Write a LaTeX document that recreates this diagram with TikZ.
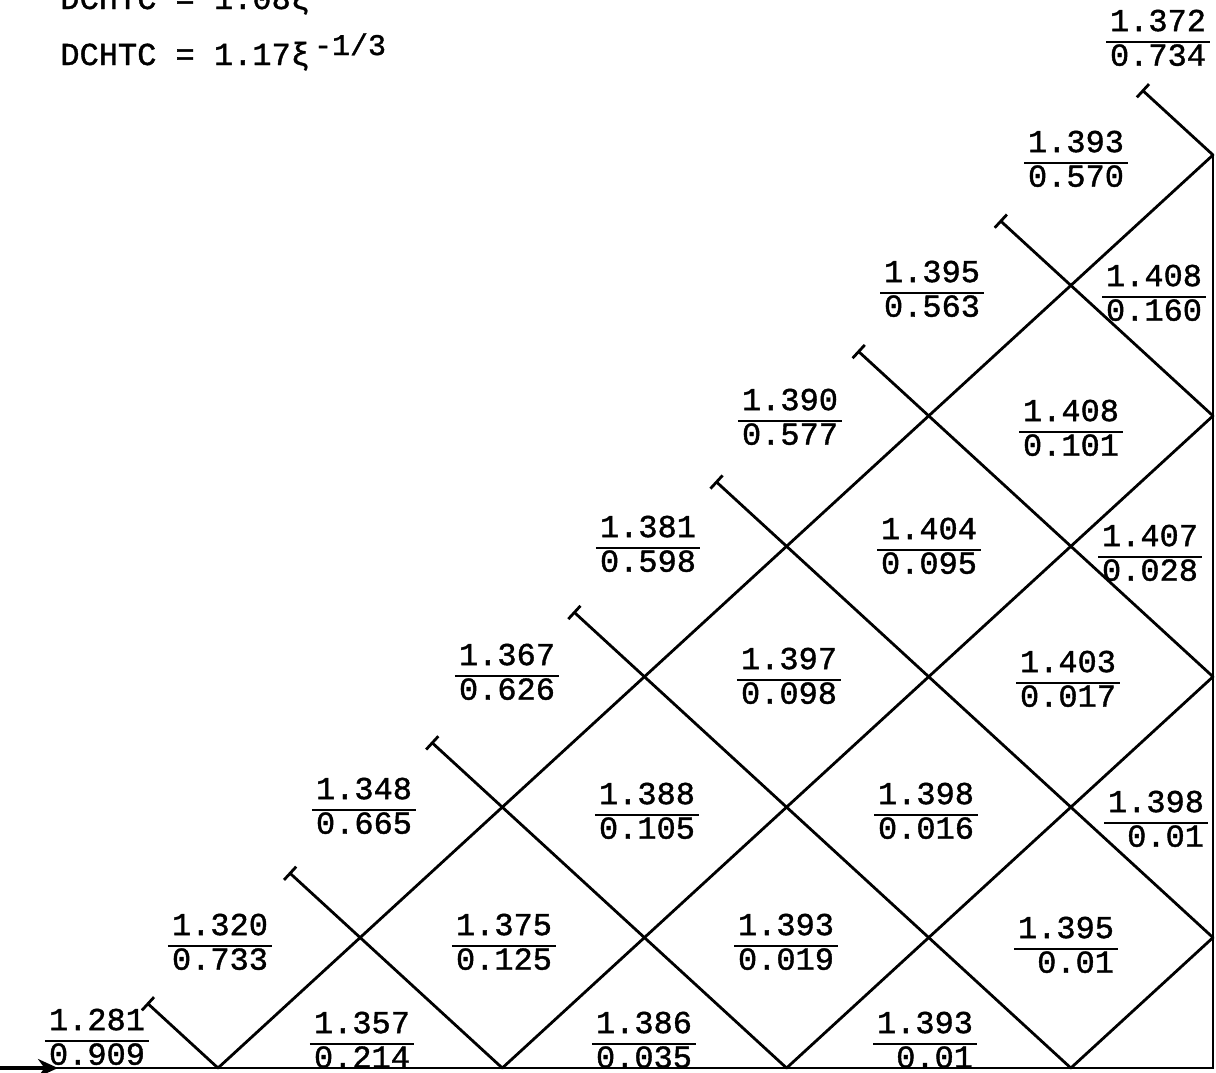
\documentclass[tikz,border=0pt]{standalone}
\usepackage{fontspec}
\setmainfont{Liberation Mono}[FakeBold=1.2]
\usetikzlibrary{arrows.meta}
\newcommand\fr[2]{{\setlength{\arrayrulewidth}{1.3pt}\begin{tabular}{@{\hspace{2pt}}r@{\hspace{2pt}}}#1\\\hline #2\end{tabular}}}
\begin{document}
\begin{tikzpicture}[x=0.5pt,y=-0.5pt,
  grid/.style={line width=1.4pt,line cap=round},
  tline/.style={grid,arrows={Bar[width=9pt,line width=1.4pt]-}},
  lab/.style={inner sep=0pt,font=\fontsize{16pt}{16pt}\selectfont}]
\useasboundingbox[fill=white] (0,0) rectangle (1216,1072);
% grid coordinates
\foreach \k in {0,...,3} \coordinate (b\k) at ({218+2*\k*142.14},1068);
\foreach \j in {1,3,5,7} \coordinate (r\j) at (1213,{1068-\j*130.43});
\foreach \k in {0,...,7} \coordinate (s\k) at ({218+(\k-0.5)*142.14},{1068-(\k+0.5)*130.43});
\coordinate (wb) at (1213,1068);
\coordinate (left) at (0,1068);
\coordinate (tip) at (58,1068);
% frame
\draw[grid] (left) -- (wb) -- (r7);
\draw[line width=1.6pt,-{Stealth[length=10pt,width=9pt]}] (left) -- (tip);
% rising lines
\draw[grid] (b0) -- (r7);
\draw[grid] (b1) -- (r5);
\draw[grid] (b2) -- (r3);
\draw[grid] (b3) -- (r1);
% falling lines with bar ends
\draw[tline] (s0) -- (b0);
\draw[tline] (s1) -- (b1);
\draw[tline] (s2) -- (b2);
\draw[tline] (s3) -- (b3);
\draw[tline] (s4) -- (r1);
\draw[tline] (s5) -- (r3);
\draw[tline] (s6) -- (r5);
\draw[tline] (s7) -- (r7);
% heading
\node[lab,anchor=base west] (eqa) at (60,9) {DCHTC = 1.08ξ};
\node[lab,anchor=base west] (eqb) at (60,65) {DCHTC = 1.17ξ\hspace{2pt}\raisebox{5pt}{\fontsize{15pt}{15pt}\selectfont -1/3}};
% labels along the diagonal
\node[lab] (l1) at (97,1041) {\fr{1.281}{0.909}};
\node[lab] (l2) at (220,946) {\fr{1.320}{0.733}};
\node[lab] (l3) at (364,810) {\fr{1.348}{0.665}};
\node[lab] (l4) at (507,676) {\fr{1.367}{0.626}};
\node[lab] (l5) at (648,548) {\fr{1.381}{0.598}};
\node[lab] (l6) at (790,421) {\fr{1.390}{0.577}};
\node[lab] (l7) at (932,293) {\fr{1.395}{0.563}};
\node[lab] (l8) at (1076,163) {\fr{1.393}{0.570}};
\node[lab] (l9) at (1158,42) {\fr{1.372}{0.734}};
% labels inside
\node[lab] (c1) at (362,1044) {\fr{1.357}{0.214}};
\node[lab] (c2) at (504,946) {\fr{1.375}{0.125}};
\node[lab] (c3) at (644,1044) {\fr{1.386}{0.035}};
\node[lab] (c4) at (647,815) {\fr{1.388}{0.105}};
\node[lab] (c5) at (786,946) {\fr{1.393}{0.019}};
\node[lab] (c6) at (789,680) {\fr{1.397}{0.098}};
\node[lab] (c7) at (925,1044) {\fr{1.393}{0.01}};
\node[lab] (c8) at (926,815) {\fr{1.398}{0.016}};
\node[lab] (c9) at (929,550) {\fr{1.404}{0.095}};
\node[lab] (c10) at (1066,949) {\fr{1.395}{0.01}};
\node[lab] (c11) at (1068,683) {\fr{1.403}{0.017}};
\node[lab] (c12) at (1071,432) {\fr{1.408}{0.101}};
\node[lab] (c13) at (1156,823) {\fr{1.398}{0.01}};
\node[lab] (c14) at (1150,557) {\fr{1.407}{0.028}};
\node[lab] (c15) at (1154,297) {\fr{1.408}{0.160}};
\end{tikzpicture}
\end{document}
